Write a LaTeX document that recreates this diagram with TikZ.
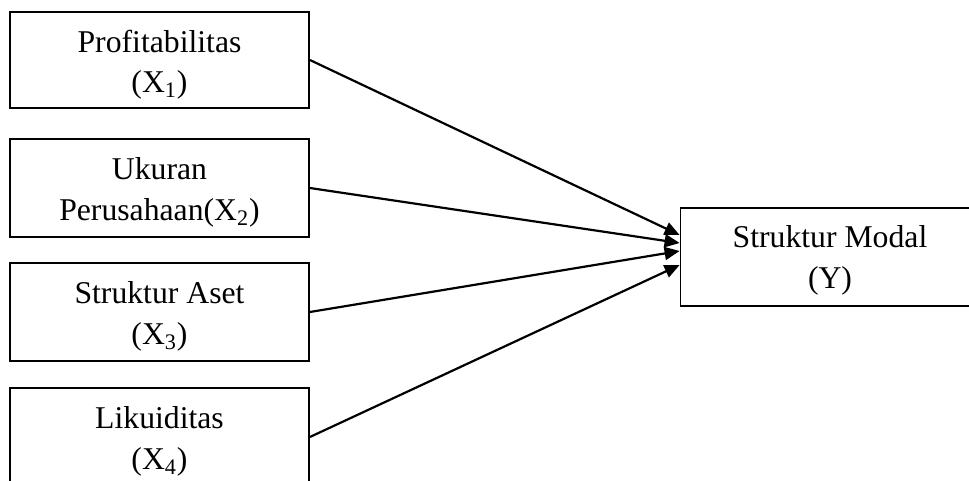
\documentclass[tikz,border=0pt]{standalone}
\usepackage{fontspec}
\setmainfont{Liberation Serif}
\usetikzlibrary{arrows.meta}
\begin{document}
\begin{tikzpicture}[x=0.5pt,y=-0.5pt,
  box/.style={draw=black,line width=0.9pt,rectangle,inner sep=0pt,minimum width=149.5pt},
  lbl/.style={align=center,inner sep=0pt,font=\fontsize{15.85}{20.25}\selectfont},
  arr/.style={line width=1.1pt,-{Triangle[length=7.5pt,width=6.5pt]}}]
\useasboundingbox (0,0) rectangle (969,481);
\clip (0,0) rectangle (969,481);
\node[box,minimum height=48pt] (b1) at (159.5,60) {};
\node[box,minimum height=49pt] (b2) at (159.5,188) {};
\node[box,minimum height=49pt] (b3) at (159.5,312) {};
\node[box,minimum height=49pt] (b4) at (159.5,437) {};
\node[box,minimum height=49pt] (y) at (830,257) {};
\node[lbl] (t1) at ([yshift=-2.25pt]b1.center) {Profitabilitas\\(X\textsubscript{1})};
\node[lbl] (t2) at ([yshift=-2.25pt]b2.center) {Ukuran\\Perusahaan(X\textsubscript{2})};
\node[lbl] (t3) at ([yshift=-2.25pt]b3.center) {Struktur Aset\\(X\textsubscript{3})};
\node[lbl] (t4) at ([yshift=-2.25pt]b4.center) {Likuiditas\\(X\textsubscript{4})};
\node[lbl] (ty) at ([yshift=-1.75pt]y.center) {Struktur Modal\\(Y)};
\draw[arr] (b1.east) -- ([yshift=11pt]y.west);
\draw[arr] (b2.east) -- ([yshift=7pt]y.west);
\draw[arr] (b3.east) -- ([yshift=3pt]y.west);
\draw[arr] (b4.east) -- ([yshift=-4pt]y.west);
\end{tikzpicture}
\end{document}
